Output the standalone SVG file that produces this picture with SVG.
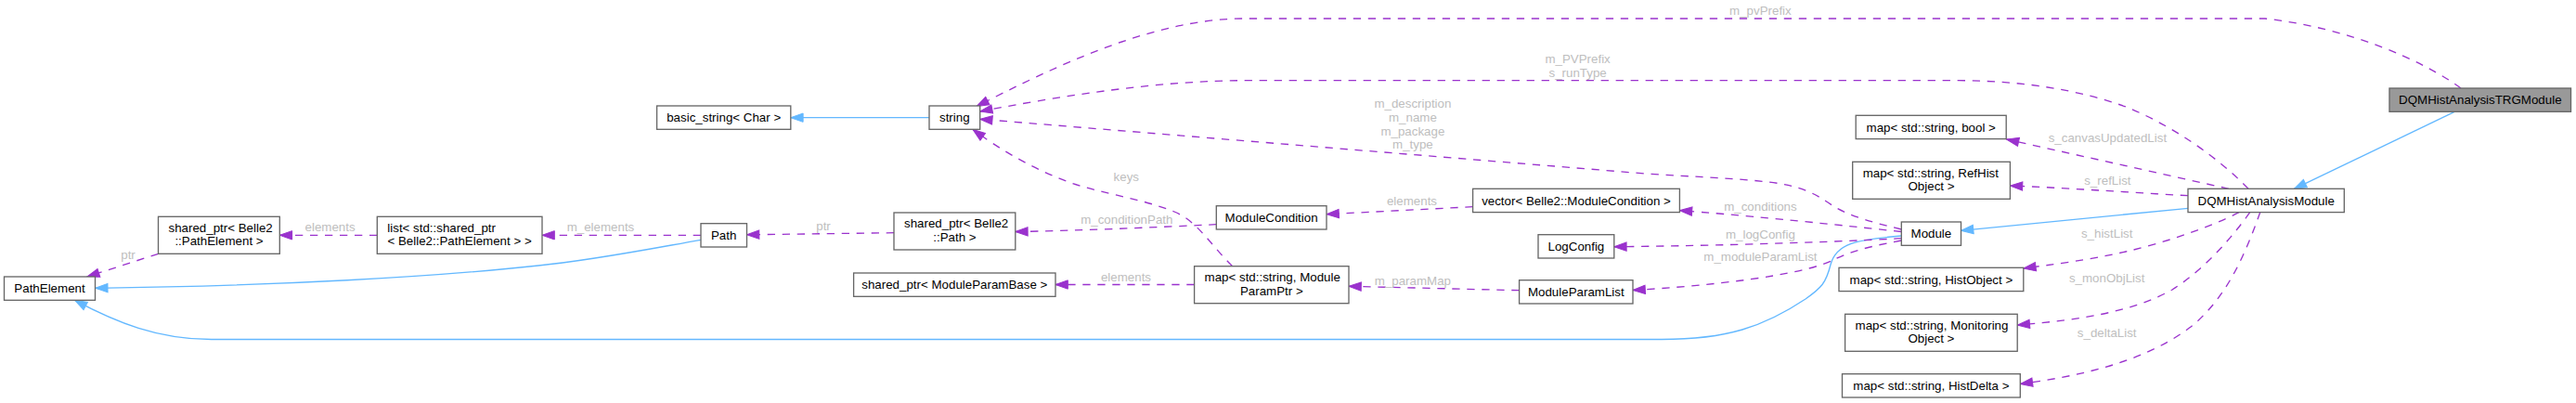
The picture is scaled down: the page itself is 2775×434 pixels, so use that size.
<svg xmlns="http://www.w3.org/2000/svg" width="2775" height="434" viewBox="0 0 2775 434">
<style>
.node rect{fill:#ffffff;stroke:#666666;stroke-width:1.33}
.node.hl rect{fill:#999999}
text{font-family:"Liberation Sans",Arial,Helvetica,sans-serif;font-size:13.33px}
.node text{fill:#000000}
.m{text-anchor:middle}
.s{text-anchor:start}
.inh{fill:none;stroke:#63b8ff;stroke-width:1.33;marker-end:url(#ab)}
.use{fill:none;stroke:#9a32cd;stroke-width:1.33;stroke-dasharray:8.3,7.7;marker-end:url(#ap)}
.lbl{fill:#bebebe;text-anchor:middle}
</style>
<defs>
<marker id="ap" markerUnits="userSpaceOnUse" viewBox="-1 -1 16 12" markerWidth="16" markerHeight="12" refX="13.3" refY="4.67" orient="auto">
<path d="M0,0 L13.3,4.67 L0,9.33 z" fill="#9a32cd" stroke="#9a32cd" stroke-width="1"/>
</marker>
<marker id="ab" markerUnits="userSpaceOnUse" viewBox="-1 -1 16 12" markerWidth="16" markerHeight="12" refX="13.3" refY="4.67" orient="auto">
<path d="M0,0 L13.3,4.67 L0,9.33 z" fill="#63b8ff" stroke="#63b8ff" stroke-width="1"/>
</marker>
</defs>
<rect x="0" y="0" width="2775" height="434" fill="#ffffff"/>

<g id="connectors">
<g id="e-string-basic"><path class="inh" d="M1001,126.7 L851.8,126.7"/></g>
<g id="e-path-pathelement"><path class="inh" d="M755,258.3 C700,268 640,280 580,286 C470,298 300,308 102.7,310.3"/></g>
<g id="e-module-pathelement"><path class="inh" d="M2048.3,254 C2000,258 1978,262 1972,285 C1967,305 1962,310 1945,322 C1900,352 1860,365.5 1790,365.5 L227.7,365.5 C170,365.5 125,347 80.5,323.3"/></g>
<g id="e-dqm-module"><path class="inh" d="M2357,224.3 L2112.5,248.3"/></g>
<g id="e-trg-dqm"><path class="inh" d="M2643.7,120.7 L2471.4,203.3"/></g>

<g id="e-list-sppe"><path class="use" d="M406.3,253.3 L301.3,253.3"/><text class="lbl" x="355.6" y="249">elements</text></g>
<g id="e-path-list"><path class="use" d="M755,253.3 L584,253.3"/><text class="lbl" x="647" y="249">m_elements</text></g>
<g id="e-sppe-pathelement"><path class="use" d="M170.5,273.3 L93.8,298"/><text class="lbl" x="138" y="279">ptr</text></g>
<g id="e-sppath-path"><path class="use" d="M963,250.7 L804.5,252.8"/><text class="lbl" x="887" y="248">ptr</text></g>
<g id="e-mc-sppath"><path class="use" d="M1310.3,241.7 C1240,245 1160,248.5 1093.8,249.5"/><text class="lbl" x="1213.8" y="241">m_conditionPath</text></g>
<g id="e-vector-mc"><path class="use" d="M1586.6,222.7 L1429,230.7"/><text class="lbl" x="1521" y="221">elements</text></g>
<g id="e-mpp-spmpb"><path class="use" d="M1286.6,306.5 L1137,306.5"/><text class="lbl" x="1213" y="302.5">elements</text></g>
<g id="e-mpl-mpp"><path class="use" d="M1636.6,312.7 L1453,308.3"/><text class="lbl" x="1521.9" y="307">m_paramMap</text></g>
<g id="e-mpp-string"><path class="use" d="M1327.7,286.7 C1305,265 1290,238 1265,228 C1230,214 1195,210 1160,199 C1120,186 1080,163 1048,139.5"/><text class="lbl" x="1213.3" y="195">keys</text></g>
<g id="e-module-string"><path class="use" d="M2048.3,247 C2020,240 1995,234 1975,222 C1955,208 1940,200 1905,196 C1860,191 1810,190 1760,186 L1055.7,128.3"/><text class="lbl" x="1521.9" y="116.3">m_description</text><text class="lbl" x="1521.9" y="131">m_name</text><text class="lbl" x="1521.9" y="145.7">m_package</text><text class="lbl" x="1521.9" y="160.4">m_type</text></g>
<g id="e-module-vector"><path class="use" d="M2048.3,249.5 C1960,240 1870,231 1809.4,226.7"/><text class="lbl" x="1896.4" y="226.5">m_conditions</text></g>
<g id="e-module-logconfig"><path class="use" d="M2048.3,256.7 C1950,262 1820,265 1738.8,265.7"/><text class="lbl" x="1896.4" y="257">m_logConfig</text></g>
<g id="e-module-mpl"><path class="use" d="M2048.3,259 C2010,266 1990,272 1975,280 C1940,297 1840,308 1759,312.5"/><text class="lbl" x="1896.4" y="281">m_moduleParamList</text></g>
<g id="e-dqm-string"><path class="use" d="M2422,203.3 C2390,170 2340,135 2290,115 C2240,97 2180,87 2110,86.7 L1340,86.7 C1250,87 1150,102 1055.7,120"/><text class="lbl" x="1699.6" y="68">m_PVPrefix</text><text class="lbl" x="1699.6" y="82.7">s_runType</text></g>
<g id="e-trg-string"><path class="use" d="M2651,95 C2610,65 2530,30 2440,20 L1340,20 C1240,20 1130,75 1052,114.5"/><text class="lbl" x="1896.4" y="16">m_pvPrefix</text></g>
<g id="e-dqm-mapbool"><path class="use" d="M2401,203.3 L2161.5,150"/><text class="lbl" x="2270.4" y="152.5">s_canvasUpdatedList</text></g>
<g id="e-dqm-refhist"><path class="use" d="M2357,210.7 C2290,207 2220,202 2165.4,200"/><text class="lbl" x="2270.4" y="198.5">s_refList</text></g>
<g id="e-dqm-histobj"><path class="use" d="M2412,228.7 C2380,245 2330,262 2290,271 C2250,280 2210,285 2179.8,289"/><text class="lbl" x="2269.7" y="256">s_histList</text></g>
<g id="e-dqm-monobj"><path class="use" d="M2423.7,228.7 C2405,255 2375,290 2340,312 C2290,340 2220,346 2173.2,350"/><text class="lbl" x="2269.7" y="303.5">s_monObjList</text></g>
<g id="e-dqm-histdelta"><path class="use" d="M2434.7,228.7 C2420,270 2400,320 2360,352 C2310,390 2240,405 2176.3,413.5"/><text class="lbl" x="2269.7" y="362.5">s_deltaList</text></g>
</g>

<g id="n-PathElement" class="node"><rect x="4.5" y="298" width="98" height="25.3"/><text class="m" x="53.5" y="315.3">PathElement</text></g>
<g id="n-spPathElement" class="node"><rect x="170.5" y="233.3" width="130.8" height="40"/><text class="s" x="181.5" y="249.5">shared_ptr&lt; Belle2</text><text class="m" x="236" y="264.2">::PathElement &gt;</text></g>
<g id="n-list" class="node"><rect x="406.3" y="233.3" width="177.7" height="40"/><text class="s" x="417.3" y="249.5">list&lt; std::shared_ptr</text><text class="m" x="495.1" y="264.2">&lt; Belle2::PathElement &gt; &gt;</text></g>
<g id="n-Path" class="node"><rect x="755" y="240.7" width="49.5" height="25.3"/><text class="m" x="779.7" y="258">Path</text></g>
<g id="n-basic_string" class="node"><rect x="707.6" y="114" width="144.2" height="25.3"/><text class="m" x="779.7" y="131.3">basic_string&lt; Char &gt;</text></g>
<g id="n-string" class="node"><rect x="1001" y="114" width="54.7" height="25.3"/><text class="m" x="1028.3" y="131.3">string</text></g>
<g id="n-spPath" class="node"><rect x="963" y="229" width="130.8" height="40"/><text class="s" x="974" y="245.2">shared_ptr&lt; Belle2</text><text class="m" x="1028.4" y="259.9">::Path &gt;</text></g>
<g id="n-spModuleParamBase" class="node"><rect x="919.6" y="294" width="217.4" height="25.3"/><text class="m" x="1028.3" y="311.3">shared_ptr&lt; ModuleParamBase &gt;</text></g>
<g id="n-ModuleCondition" class="node"><rect x="1310.3" y="221.7" width="118.7" height="25.3"/><text class="m" x="1369.6" y="239">ModuleCondition</text></g>
<g id="n-mapModuleParamPtr" class="node"><rect x="1286.6" y="286.7" width="166.4" height="40"/><text class="s" x="1297.6" y="303">map&lt; std::string, Module</text><text class="m" x="1369.8" y="317.6">ParamPtr &gt;</text></g>
<g id="n-vectorModuleCondition" class="node"><rect x="1586.6" y="203.3" width="222.8" height="25.3"/><text class="m" x="1698" y="220.6">vector&lt; Belle2::ModuleCondition &gt;</text></g>
<g id="n-LogConfig" class="node"><rect x="1657" y="252.7" width="81.8" height="25.3"/><text class="m" x="1697.9" y="270">LogConfig</text></g>
<g id="n-ModuleParamList" class="node"><rect x="1636.6" y="301.7" width="122.4" height="25.3"/><text class="m" x="1697.8" y="319">ModuleParamList</text></g>
<g id="n-mapBool" class="node"><rect x="1999.2" y="124.3" width="162" height="25.3"/><text class="m" x="2080.2" y="141.6">map&lt; std::string, bool &gt;</text></g>
<g id="n-mapRefHist" class="node"><rect x="1995.7" y="174.3" width="169.7" height="40"/><text class="s" x="2006.7" y="190.5">map&lt; std::string, RefHist</text><text class="m" x="2080.5" y="205.2">Object &gt;</text></g>
<g id="n-Module" class="node"><rect x="2048.3" y="239" width="64.2" height="25.3"/><text class="m" x="2080.4" y="256.3">Module</text></g>
<g id="n-mapHistObject" class="node"><rect x="1981" y="288.3" width="198.8" height="25.3"/><text class="m" x="2080.4" y="305.6">map&lt; std::string, HistObject &gt;</text></g>
<g id="n-mapMonitoring" class="node"><rect x="1987.6" y="338.3" width="185.6" height="40"/><text class="s" x="1998.6" y="354.5">map&lt; std::string, Monitoring</text><text class="m" x="2080.4" y="369.2">Object &gt;</text></g>
<g id="n-mapHistDelta" class="node"><rect x="1984.5" y="402.7" width="191.8" height="25.3"/><text class="m" x="2080.4" y="420">map&lt; std::string, HistDelta &gt;</text></g>
<g id="n-DQMHistAnalysisModule" class="node"><rect x="2357" y="203.3" width="168.3" height="25.3"/><text class="m" x="2441.2" y="220.6">DQMHistAnalysisModule</text></g>
<g id="n-DQMHistAnalysisTRGModule" class="node hl"><rect x="2574" y="95" width="195.5" height="25.3"/><text class="m" x="2671.8" y="112.3">DQMHistAnalysisTRGModule</text></g>
</svg>
